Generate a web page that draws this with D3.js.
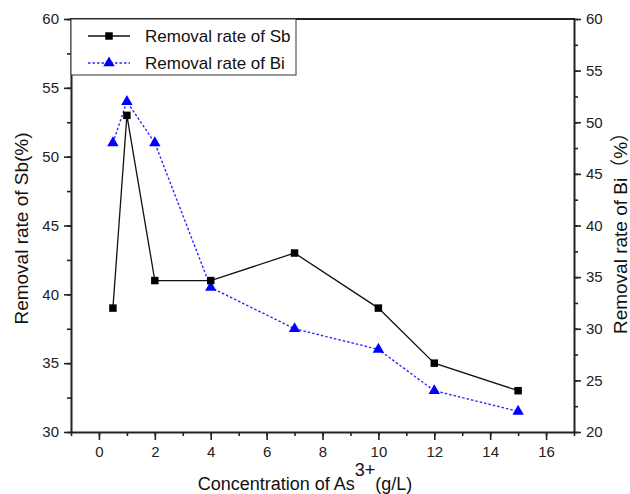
<!DOCTYPE html>
<html>
<head>
<meta charset="utf-8">
<script src="https://cdn.jsdelivr.net/npm/d3@7"></script>
<style>
  html, body { margin: 0; padding: 0; background: #fff; }
  svg { display: block; font-family: "Liberation Sans", Arial, "Noto Sans CJK SC", sans-serif; }
</style>
</head>
<body>
<svg id="chart" width="630" height="494"></svg>
<script>
// concentration of As3+ (g/L)
const concentration = [0.5, 1, 2, 4, 7, 10, 12, 15];
// removal rate of Sb, left axis (%)
const removalSb = [39, 53, 41, 41, 43, 39, 35, 33];
// removal rate of Bi, right axis (%)
const removalBi = [48, 52, 48, 34, 30, 28, 24, 22];

const xTicks = [0, 2, 4, 6, 8, 10, 12, 14, 16];
const leftTicks = [30, 35, 40, 45, 50, 55, 60];
const rightTicks = [20, 25, 30, 35, 40, 45, 50, 55, 60];

const legendLabels = ["Removal rate of Sb", "Removal rate of Bi"];

(function () {
    const svg = d3.select("#chart");
    const left = 71, right = 574, top = 19, bottom = 432;

    const x = d3.scaleLinear().domain([-1, 17]).range([left, right]);
    const yL = d3.scaleLinear().domain([30, 60]).range([bottom, top]);
    const yR = d3.scaleLinear().domain([20, 60]).range([bottom, top]);

    const axisColor = "#222";

    function styleAxis(g) {
        g.select(".domain").attr("stroke", axisColor).attr("stroke-width", 2);
        g.selectAll(".tick line").attr("stroke", axisColor).attr("stroke-width", 1.6);
        g.selectAll(".tick text").attr("fill", "#222").attr("font-size", 15);
    }

    function minorOnly(g) {
        g.select(".domain").remove();
        g.selectAll("line").attr("stroke", axisColor).attr("stroke-width", 1.6);
    }

    // minor ticks first, so the major ones sit on top
    svg.append("g")
        .attr("transform", `translate(0,${bottom})`)
        .call(d3.axisBottom(x).tickValues(d3.range(-1, 18, 1)).tickSize(4).tickFormat(""))
        .call(minorOnly);
    svg.append("g")
        .attr("transform", `translate(${left},0)`)
        .call(d3.axisLeft(yL).tickValues(d3.range(30, 61, 2.5)).tickSize(4).tickFormat(""))
        .call(minorOnly);
    svg.append("g")
        .attr("transform", `translate(${right},0)`)
        .call(d3.axisRight(yR).tickValues(d3.range(20, 61, 2.5)).tickSize(4).tickFormat(""))
        .call(minorOnly);

    svg.append("g")
        .attr("transform", `translate(0,${bottom})`)
        .call(d3.axisBottom(x).tickValues(xTicks).tickSize(8).tickSizeOuter(0).tickPadding(6))
        .call(styleAxis);

    svg.append("g")
        .attr("transform", `translate(${left},0)`)
        .call(d3.axisLeft(yL).tickValues(leftTicks).tickSize(7).tickSizeOuter(0).tickPadding(5))
        .call(styleAxis);

    svg.append("g")
        .attr("transform", `translate(${right},0)`)
        .call(d3.axisRight(yR).tickValues(rightTicks).tickSize(7).tickSizeOuter(0).tickPadding(5))
        .call(styleAxis);

    // top frame line
    svg.append("line")
        .attr("x1", left - 1).attr("x2", right + 1)
        .attr("y1", top).attr("y2", top)
        .attr("stroke", axisColor).attr("stroke-width", 2);

    const pts = concentration.map((c, i) => ({ c, sb: removalSb[i], bi: removalBi[i] }));

    // Bi series (right axis)
    svg.append("path")
        .datum(pts)
        .attr("fill", "none")
        .attr("stroke", "#2b2bff")
        .attr("stroke-width", 1.4)
        .attr("stroke-dasharray", "2.5,2")
        .attr("d", d3.line().x(d => x(d.c)).y(d => yR(d.bi)));

    // Sb series (left axis)
    svg.append("path")
        .datum(pts)
        .attr("fill", "none")
        .attr("stroke", "#111")
        .attr("stroke-width", 1.3)
        .attr("d", d3.line().x(d => x(d.c)).y(d => yL(d.sb)));

    const square = d3.symbol().type(d3.symbolSquare).size(56);
    const triangle = d3.symbol().type(d3.symbolTriangle).size(56);

    svg.append("g").selectAll("path")
        .data(pts)
        .join("path")
        .attr("transform", d => `translate(${x(d.c)},${yR(d.bi)})`)
        .attr("d", triangle)
        .attr("fill", "#0000ff");

    svg.append("g").selectAll("path")
        .data(pts)
        .join("path")
        .attr("transform", d => `translate(${x(d.c)},${yL(d.sb)})`)
        .attr("d", square)
        .attr("fill", "#000");

    // legend
    const legend = svg.append("g");
    legend.append("rect")
        .attr("x", left).attr("y", top)
        .attr("width", 225).attr("height", 56)
        .attr("fill", "#fff")
        .attr("stroke", "#333")
        .attr("stroke-width", 1);

    const rows = [
        { label: legendLabels[0], y: 36, stroke: "#111", dash: null, shape: square, fill: "#000" },
        { label: legendLabels[1], y: 63, stroke: "#2b2bff", dash: "2.5,2", shape: triangle, fill: "#0000ff" }
    ];
    rows.forEach(r => {
        legend.append("line")
            .attr("x1", 88).attr("x2", 130)
            .attr("y1", r.y).attr("y2", r.y)
            .attr("stroke", r.stroke).attr("stroke-width", 1.3)
            .attr("stroke-dasharray", r.dash);
        legend.append("path")
            .attr("transform", `translate(109,${r.y})`)
            .attr("d", r.shape)
            .attr("fill", r.fill);
        legend.append("text")
            .attr("x", 145).attr("y", r.y + 6)
            .attr("font-size", 17)
            .attr("fill", "#111")
            .text(r.label);
    });

    // axis titles
    svg.append("text")
        .attr("transform", `translate(28,${(top + bottom) / 2 + 3}) rotate(-90)`)
        .attr("text-anchor", "middle")
        .attr("font-size", 19)
        .attr("fill", "#111")
        .text("Removal rate of Sb(%)");

    svg.append("text")
        .attr("transform", `translate(627,${(top + bottom) / 2 + 3}) rotate(-90)`)
        .attr("text-anchor", "middle")
        .attr("font-size", 19)
        .attr("fill", "#111")
        .text("Removal rate of Bi（%）");

    const xTitle = svg.append("text")
        .attr("x", 305).attr("y", 490)
        .attr("text-anchor", "middle")
        .attr("font-size", 18)
        .attr("fill", "#111");
    xTitle.append("tspan").text("Concentration of As");
    xTitle.append("tspan").attr("dy", -14).attr("font-size", 18).text("3+");
    xTitle.append("tspan").attr("dy", 14).text("(g/L)");
})();
</script>
</body>
</html>
